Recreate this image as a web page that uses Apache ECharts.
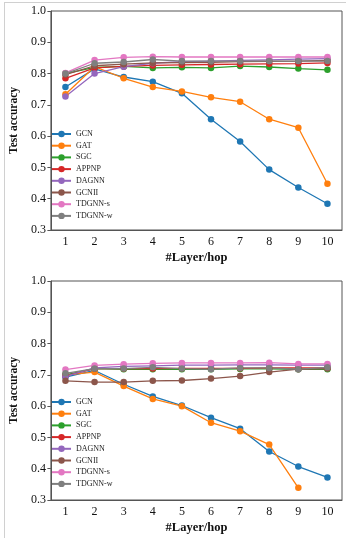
<!DOCTYPE html>
<html>
<head>
<meta charset="utf-8">
<script src="https://cdn.jsdelivr.net/npm/echarts@6/dist/echarts.min.js"></script>
<style>
  html, body { margin: 0; padding: 0; background: #fff; }
  #chart { width: 346px; height: 538px; }
</style>
</head>
<body>
<div id="chart"></div>
<script>
// x categories (#Layer/hop)
var hops = ['1', '2', '3', '4', '5', '6', '7', '8', '9', '10']
var methods = ['GCN', 'GAT', 'SGC', 'APPNP', 'DAGNN', 'GCNII', 'TDGNN-s', 'TDGNN-w']
var colors = ['#1f77b4', '#ff7f0e', '#2ca02c', '#d62728', '#9467bd', '#8c564b', '#e377c2', '#7f7f7f']

// upper panel
var gcnTop = [0.757, 0.815, 0.789, 0.774, 0.737, 0.654, 0.583, 0.493, 0.436, 0.384]
var gatTop = [0.734, 0.822, 0.785, 0.757, 0.743, 0.724, 0.710, 0.654, 0.627, 0.448]
var sgcTop = [0.800, 0.820, 0.823, 0.818, 0.820, 0.818, 0.824, 0.821, 0.816, 0.812]
var appnpTop = [0.785, 0.818, 0.823, 0.826, 0.828, 0.829, 0.830, 0.831, 0.832, 0.834]
var dagnnTop = [0.727, 0.800, 0.822, 0.833, 0.838, 0.840, 0.842, 0.844, 0.846, 0.848]
var gcniiTop = [0.797, 0.825, 0.830, 0.834, 0.835, 0.836, 0.838, 0.839, 0.840, 0.842]
var tdgnnsTop = [0.802, 0.843, 0.852, 0.854, 0.853, 0.853, 0.853, 0.853, 0.853, 0.853]
var tdgnnwTop = [0.800, 0.833, 0.837, 0.845, 0.840, 0.840, 0.840, 0.840, 0.840, 0.840]

// lower panel
var gcnBot = [0.693, 0.714, 0.670, 0.631, 0.602, 0.563, 0.528, 0.455, 0.407, 0.372]
var gatBot = [0.700, 0.709, 0.664, 0.623, 0.600, 0.547, 0.520, 0.477, 0.339, null]
var sgcBot = [0.700, 0.720, 0.718, 0.718, 0.718, 0.718, 0.719, 0.719, 0.718, 0.718]
var appnpBot = [0.697, 0.720, 0.720, 0.720, 0.721, 0.721, 0.721, 0.722, 0.722, 0.722]
var dagnnBot = [0.695, 0.722, 0.727, 0.729, 0.731, 0.731, 0.732, 0.732, 0.731, 0.731]
var gcniiBot = [0.681, 0.677, 0.677, 0.681, 0.682, 0.688, 0.696, 0.709, 0.718, 0.720]
var tdgnnsBot = [0.717, 0.730, 0.734, 0.737, 0.738, 0.738, 0.738, 0.739, 0.735, 0.735]
var tdgnnwBot = [0.705, 0.720, 0.720, 0.724, 0.720, 0.718, 0.722, 0.722, 0.718, 0.724]

var topData = [gcnTop, gatTop, sgcTop, appnpTop, dagnnTop, gcniiTop, tdgnnsTop, tdgnnwTop]
var botData = [gcnBot, gatBot, sgcBot, appnpBot, dagnnBot, gcniiBot, tdgnnsBot, tdgnnwBot]

var font = 'Liberation Serif'
var axisColor = '#555'

function xAxisFor(idx) {
  return {
    type: 'category',
    gridIndex: idx,
    data: hops,
    boundaryGap: true,
    name: '#Layer/hop',
    nameLocation: 'middle',
    nameGap: 21,
    nameTextStyle: { fontFamily: font, fontWeight: 'bold', fontSize: 12.5, color: '#111' },
    axisLine: { lineStyle: { color: axisColor, width: 1 } },
    axisTick: { alignWithLabel: true, length: 3.5, lineStyle: { color: axisColor } },
    axisLabel: { fontFamily: font, fontSize: 12, color: '#111', margin: 6 },
    splitLine: { show: false }
  }
}

function yAxisFor(idx) {
  return {
    type: 'value',
    gridIndex: idx,
    min: 0.3,
    max: 1.0,
    interval: 0.1,
    name: 'Test accuracy',
    nameLocation: 'middle',
    nameGap: 22,
    nameTextStyle: { fontFamily: font, fontWeight: 'bold', fontSize: 11.5, color: '#111' },
    axisLine: { show: true, lineStyle: { color: axisColor, width: 1 } },
    axisTick: { show: true, length: 3.5, lineStyle: { color: axisColor } },
    axisLabel: {
      fontFamily: font, fontSize: 12, color: '#111', margin: 5,
      formatter: function(v) { return v.toFixed(1) }
    },
    splitLine: { show: false }
  }
}

function legendFor(top) {
  return {
    orient: 'vertical',
    left: 46,
    top: top,
    data: methods,
    itemWidth: 19,
    itemHeight: 8,
    itemGap: 3.7,
    textStyle: { fontFamily: font, fontSize: 8, color: '#222', lineHeight: 8 }
  }
}

var series = []
methods.forEach(function(m, i) {
  [topData, botData].forEach(function(set, g) {
    series.push({
      name: m,
      type: 'line',
      xAxisIndex: g,
      yAxisIndex: g,
      data: set[i],
      symbol: 'circle',
      symbolSize: 6.5,
      showSymbol: true,
      animation: false,
      lineStyle: { color: colors[i], width: 1.3 },
      itemStyle: { color: colors[i] }
    })
  })
})

var myChart = echarts.init(document.getElementById('chart'))
var option = {
  animation: false,
  color: colors,
  grid: [
    { left: 45, right: 4, top: 11, height: 219, show: true, borderColor: axisColor, borderWidth: 1 },
    { left: 45, right: 4, top: 281, height: 219, show: true, borderColor: axisColor, borderWidth: 1 }
  ],
  xAxis: [xAxisFor(0), xAxisFor(1)],
  yAxis: [yAxisFor(0), yAxisFor(1)],
  legend: [legendFor(125), legendFor(393)],
  // light frame of the figure
  graphic: [
    { type: 'line', shape: { x1: 4.5, y1: 2, x2: 4.5, y2: 538 }, style: { stroke: '#d0d0d0', lineWidth: 1 } },
    { type: 'line', shape: { x1: 4, y1: 2.5, x2: 346, y2: 2.5 }, style: { stroke: '#d0d0d0', lineWidth: 1 } }
  ],
  series: series
}
myChart.setOption(option)
</script>
</body>
</html>
